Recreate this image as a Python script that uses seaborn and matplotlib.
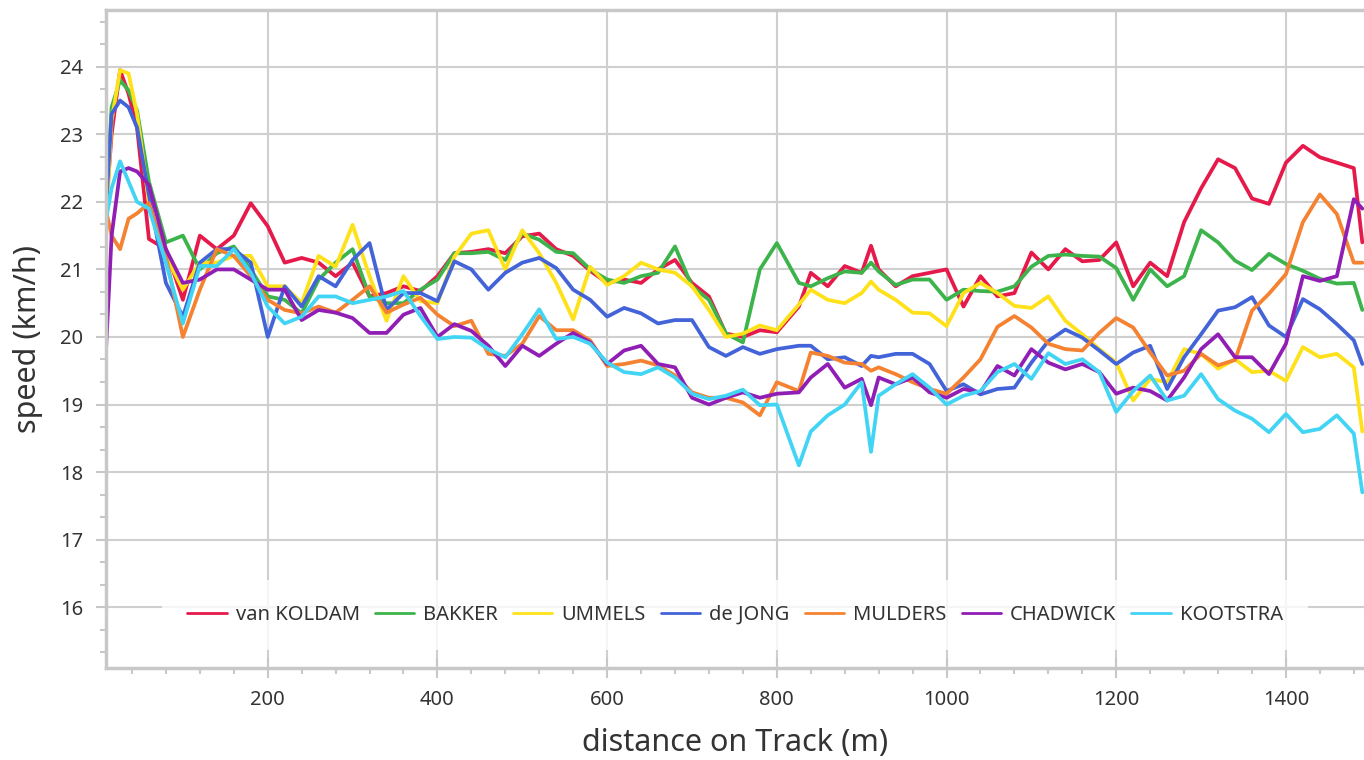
import numpy as np
import pandas as pd
import matplotlib
matplotlib.use("Agg")
import matplotlib.pyplot as plt
import seaborn as sns
from matplotlib.ticker import MultipleLocator

# distance on track (m), shared by all riders
distance = [9, 16, 26, 36, 46, 60, 80, 100, 120, 140, 160, 180, 200, 220, 240, 260,
            280, 300, 320, 340, 360, 380, 400, 420, 440, 460, 480, 500, 520,
            540, 560, 580, 600, 620, 640, 660, 680, 700, 720, 740, 760, 780, 800,
            826, 840, 860, 880, 900, 911, 920, 940, 960, 980, 1000, 1020, 1040,
            1060, 1080, 1100, 1120, 1140, 1160, 1180, 1200, 1220, 1240, 1260, 1280, 1300,
            1320, 1340, 1360, 1380, 1400, 1420, 1440, 1460, 1480, 1490]

van_koldam = [21.8, 23.0, 23.95, 23.6, 23.1, 21.45, 21.3, 20.55, 21.5, 21.3, 21.5, 21.98, 21.64, 21.1, 21.17, 21.1,
              20.9, 21.1, 20.6, 20.65, 20.75, 20.68, 20.9, 21.24, 21.26, 21.3, 21.24, 21.49, 21.53,
              21.3, 21.2, 20.98, 20.8, 20.85, 20.8, 21.0, 21.14, 20.8, 20.6, 20.05, 20.0, 20.1, 20.07,
              20.45, 20.95, 20.75, 21.05, 20.95, 21.35, 21.0, 20.75, 20.9, 20.95, 21.0, 20.45, 20.9,
              20.6, 20.65, 21.25, 21.0, 21.3, 21.12, 21.14, 21.4, 20.75, 21.1, 20.9, 21.7, 22.2,
              22.63, 22.5, 22.05, 21.97, 22.58, 22.83, 22.66, 22.58, 22.5, 21.4]

bakker = [21.8, 23.4, 23.8, 23.65, 23.35, 22.3, 21.4, 21.5, 21.0, 21.24, 21.34, 21.0, 20.6, 20.55, 20.35, 20.85,
          21.1, 21.3, 20.6, 20.5, 20.5, 20.7, 20.85, 21.24, 21.24, 21.26, 21.14, 21.53, 21.44,
          21.26, 21.24, 21.0, 20.85, 20.8, 20.9, 20.95, 21.34, 20.75, 20.55, 20.05, 19.92, 21.0, 21.39,
          20.8, 20.75, 20.87, 20.97, 20.95, 21.1, 20.97, 20.77, 20.85, 20.85, 20.55, 20.7, 20.68,
          20.67, 20.75, 21.04, 21.2, 21.22, 21.2, 21.19, 21.02, 20.55, 21.0, 20.75, 20.9, 21.58,
          21.4, 21.13, 20.99, 21.23, 21.08, 20.98, 20.86, 20.79, 20.8, 20.4]

ummels = [21.5, 23.2, 23.95, 23.9, 23.3, 22.0, 21.2, 20.7, 21.1, 21.1, 21.2, 21.2, 20.75, 20.75, 20.5, 21.2,
          21.04, 21.66, 20.9, 20.24, 20.9, 20.53, 20.5, 21.19, 21.53, 21.58, 21.0, 21.58, 21.24,
          20.8, 20.26, 21.04, 20.77, 20.9, 21.1, 21.0, 20.95, 20.75, 20.4, 20.0, 20.05, 20.17, 20.1,
          20.48, 20.7, 20.55, 20.5, 20.65, 20.82, 20.7, 20.55, 20.36, 20.35, 20.16, 20.65, 20.8,
          20.65, 20.46, 20.43, 20.6, 20.24, 20.04, 19.82, 19.62, 19.06, 19.38, 19.33, 19.82, 19.75,
          19.53, 19.67, 19.48, 19.5, 19.35, 19.85, 19.7, 19.75, 19.55, 18.6]

de_jong = [21.8, 23.3, 23.5, 23.4, 23.1, 22.1, 20.8, 20.3, 21.1, 21.3, 21.3, 21.1, 20.0, 20.75, 20.45, 20.9,
           20.75, 21.14, 21.39, 20.4, 20.65, 20.65, 20.53, 21.12, 21.0, 20.7, 20.95, 21.1, 21.17,
           21.02, 20.7, 20.55, 20.3, 20.43, 20.35, 20.2, 20.25, 20.25, 19.85, 19.72, 19.85, 19.75, 19.82,
           19.87, 19.87, 19.67, 19.7, 19.57, 19.72, 19.7, 19.75, 19.75, 19.6, 19.2, 19.3, 19.15,
           19.23, 19.25, 19.62, 19.94, 20.11, 19.99, 19.8, 19.6, 19.77, 19.87, 19.23, 19.7, 20.04,
           20.39, 20.44, 20.59, 20.17, 20.0, 20.56, 20.41, 20.19, 19.95, 19.6]

mulders = [21.9, 21.5, 21.3, 21.75, 21.83, 21.98, 21.2, 20.0, 20.7, 21.3, 21.2, 20.9, 20.55, 20.4, 20.35, 20.45,
           20.36, 20.55, 20.75, 20.36, 20.48, 20.58, 20.33, 20.16, 20.24, 19.75, 19.72, 19.9, 20.31,
           20.1, 20.1, 19.95, 19.57, 19.6, 19.65, 19.58, 19.43, 19.18, 19.1, 19.1, 19.03, 18.84, 19.33,
           19.2, 19.77, 19.72, 19.62, 19.6, 19.5, 19.55, 19.45, 19.33, 19.23, 19.16, 19.4, 19.67,
           20.15, 20.31, 20.14, 19.9, 19.82, 19.8, 20.06, 20.28, 20.14, 19.77, 19.43, 19.5, 19.75,
           19.58, 19.66, 20.39, 20.64, 20.93, 21.7, 22.11, 21.82, 21.1, 21.1]

chadwick = [19.7, 21.5, 22.45, 22.5, 22.45, 22.25, 21.3, 20.8, 20.85, 21.0, 21.0, 20.85, 20.7, 20.7, 20.25, 20.4,
            20.36, 20.28, 20.06, 20.06, 20.33, 20.43, 20.0, 20.19, 20.09, 19.87, 19.57, 19.87, 19.72,
            19.9, 20.06, 19.92, 19.6, 19.8, 19.87, 19.6, 19.55, 19.1, 19.0, 19.1, 19.18, 19.1, 19.16,
            19.18, 19.4, 19.6, 19.25, 19.38, 18.99, 19.4, 19.3, 19.4, 19.18, 19.1, 19.23, 19.18,
            19.57, 19.43, 19.82, 19.62, 19.52, 19.6, 19.48, 19.16, 19.25, 19.2, 19.06, 19.4, 19.82,
            20.04, 19.7, 19.7, 19.45, 19.9, 20.9, 20.83, 20.9, 22.04, 21.9]

kootstra = [21.7, 22.2, 22.6, 22.3, 22.0, 21.9, 21.1, 20.2, 21.05, 21.05, 21.3, 20.95, 20.45, 20.2, 20.3, 20.6,
            20.6, 20.5, 20.55, 20.6, 20.68, 20.31, 19.97, 20.0, 19.99, 19.82, 19.7, 20.04, 20.41,
            19.97, 20.0, 19.9, 19.62, 19.48, 19.45, 19.55, 19.4, 19.16, 19.08, 19.13, 19.22, 18.99, 19.0,
            18.1, 18.6, 18.84, 19.0, 19.33, 18.3, 19.13, 19.3, 19.45, 19.25, 19.0, 19.13, 19.2,
            19.48, 19.6, 19.38, 19.76, 19.6, 19.67, 19.48, 18.89, 19.2, 19.43, 19.06, 19.13, 19.45,
            19.08, 18.91, 18.79, 18.59, 18.86, 18.59, 18.64, 18.84, 18.57, 17.7]

riders = ['van KOLDAM', 'BAKKER', 'UMMELS', 'de JONG', 'MULDERS', 'CHADWICK', 'KOOTSTRA']
colors = ['#e6194b', '#3cb44b', '#ffe119', '#4363d8', '#f58231', '#911eb4', '#42d4f4']

speeds = [van_koldam, bakker, ummels, de_jong, mulders, chadwick, kootstra]
frames = []
for name, s in zip(riders, speeds):
    frames.append(pd.DataFrame({'distance': distance, 'speed': s, 'rider': name}))
df = pd.concat(frames, ignore_index=True)

sns.set_theme(style="white")
plt.rcParams['font.family'] = ['Noto Sans', 'DejaVu Sans']

grey = '#c8c8c8'
txt = '#333333'

fig = plt.figure(figsize=(13.64, 7.6), dpi=100)
ax = fig.add_axes([106 / 1364, 92 / 760, 1258 / 1364, 658 / 760])

sns.lineplot(data=df, x='distance', y='speed', hue='rider', hue_order=riders,
             palette=colors, estimator=None, sort=False, linewidth=2.7, ax=ax)
for line in ax.get_lines():
    line.set_solid_joinstyle('round')
    line.set_solid_capstyle('round')

ax.set_xlim(9.4, 1492)
ax.set_ylim(15.1, 24.84)

ax.xaxis.set_major_locator(MultipleLocator(200))
ax.xaxis.set_minor_locator(MultipleLocator(40))
ax.yaxis.set_major_locator(MultipleLocator(1))
ax.yaxis.set_minor_locator(MultipleLocator(1 / 3))

ax.grid(True, which='major', color='#cfcfcf', linewidth=1.5)
ax.set_axisbelow(True)

for side in ['left', 'bottom', 'top']:
    ax.spines[side].set_color(grey)
    ax.spines[side].set_linewidth(2.5)
ax.spines['right'].set_visible(False)

ax.tick_params(axis='x', which='major', direction='inout', length=15, width=1.5,
               color=grey, labelsize=14.5, labelcolor=txt, pad=8)
ax.tick_params(axis='x', which='minor', direction='out', length=4, width=1.5, color=grey)
ax.tick_params(axis='y', which='major', direction='out', length=7.5, width=1.5,
               color=grey, labelsize=14.5, labelcolor=txt, pad=9)
ax.tick_params(axis='y', which='minor', direction='out', length=4, width=1.5, color=grey)
ax.tick_params(left=True, bottom=True, which='both')

ax.set_xlabel('distance on Track (m)', fontsize=22, color=txt, labelpad=13)
ax.set_ylabel('speed (km/h)', fontsize=22, color=txt)
ax.yaxis.set_label_coords(-0.050, 0.5)

handles, labels = ax.get_legend_handles_labels()
leg = ax.legend(handles, labels, ncol=7, loc='lower center', bbox_to_anchor=(0.5, 0.012),
                frameon=True, framealpha=0.8, facecolor='white', edgecolor='none',
                fontsize=14.5, handlelength=1.95, handletextpad=0.45, columnspacing=0.75,
                borderpad=1.25)
for line in leg.get_lines():
    line.set_linewidth(2)
for t in leg.get_texts():
    t.set_color(txt)

fig.savefig('out.png', dpi=100)
